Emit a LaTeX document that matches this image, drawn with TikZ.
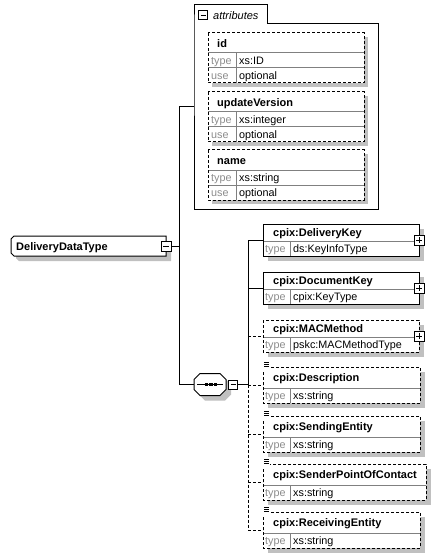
\documentclass[tikz,border=0pt]{standalone}
\usepackage{fontspec}
\setmainfont{Liberation Sans}
\definecolor{shadc}{HTML}{C0C0C0}
\definecolor{divc}{HTML}{808080}
\definecolor{labc}{HTML}{8C8C8C}

% child element box: name, left, top, right, header-bottom, bottom, title, type, border style
\newcommand\childbox[9]{%
  \fill[shadow] ({#2+5},{#3+5}) rectangle ({#4+5},{#6+5});
  \node[boxnode, minimum width={#4-#2}, minimum height={#6-#3}] (#1) at (#2,#3) {};
  \draw[grayline] (#2,#5) -- (#4,#5) ({#2+27},#5) -- ({#2+27},#6);
  \draw[#9] (#1.north west) rectangle (#1.south east);
  \node[hdr] (#1-t) at ({#2+10},{(#3+#5)/2+4}) {#7};
  \node[lbl] (#1-l) at ({#2+2},{(#5+#6)/2+3.8}) {type};
  \node[val] (#1-v) at ({#2+30},{(#5+#6)/2+3.8}) {#8};
}
% attribute box: name, top, title, type, use
\newcommand\attrbox[5]{%
  \fill[shadow] (212,{#2+4}) rectangle (368,{#2+54});
  \node[boxnode, minimum width=156, minimum height=50] (#1) at (208,#2) {};
  \draw[grayline] (208,{#2+20}) -- (364,{#2+20}) (208,{#2+35}) -- (364,{#2+35}) (236,{#2+20}) -- (236,{#2+50});
  \draw[xdash] (#1.north west) rectangle (#1.south east);
  \node[hdr] (#1-t) at (217,{#2+14.5}) {#3};
  \node[lbl] (#1-l1) at (211,{#2+31.5}) {type};
  \node[val] (#1-v1) at (239,{#2+31.5}) {#4};
  \node[lbl] (#1-l2) at (211,{#2+46.5}) {use};
  \node[val] (#1-v2) at (239,{#2+46.5}) {#5};
}
% plus / minus icons: name, x, y, size
\newcommand\plusicon[4]{%
  \node[iconbox, minimum size=#4] (#1) at (#2,#3) {};
  \draw[lw] ({#2-#4/2+2},#3) -- ({#2+#4/2-2},#3) (#2,{#3-#4/2+2}) -- (#2,{#3+#4/2-2});
}
\newcommand\minusicon[4]{%
  \node[iconbox, minimum size=#4] (#1) at (#2,#3) {};
  \draw[lw] ({#2-#4/2+2},#3) -- ({#2+#4/2-2},#3);
}
% simple-content icon at top-left corner: left, top
\newcommand\simpleicon[2]{%
  \fill[white] ({#1-1},{#2-1}) rectangle ({#1+7},{#2+3});
  \draw[line width=0.9pt] ({#1+1},{#2-5}) -- ({#1+6},{#2-5}) ({#1+1},{#2-3}) -- ({#1+6},{#2-3}) ({#1+1},{#2-1}) -- ({#1+6},{#2-1});
}

\begin{document}
\begin{tikzpicture}[x=1pt,y=-1pt,
  lw/.style={line width=1pt},
  xsolid/.style={line width=1pt},
  xdash/.style={line width=1pt, dash pattern=on 3pt off 2pt},
  grayline/.style={line width=1pt, draw=divc},
  shadow/.style={fill=shadc, draw=none},
  hdr/.style={font=\fontsize{11}{13}\selectfont\bfseries, anchor=base west, inner sep=0pt},
  lbl/.style={font=\fontsize{10.8}{12}\selectfont, text=labc, anchor=base west, inner sep=0pt},
  val/.style={font=\fontsize{10.8}{12}\selectfont, anchor=base west, inner sep=0pt},
  boxnode/.style={draw=none, fill=white, anchor=north west, inner sep=0pt, outer sep=0pt},
  iconbox/.style={draw, fill=white, line width=1pt, inner sep=0pt, outer sep=0pt},
  ]
\useasboundingbox (0,0) rectangle (442,556);
\fill[white] (0,0) rectangle (442,556);

% ---------- attributes container ----------
\node[boxnode, fill=none, minimum width=184.5, minimum height=185] (attrs) at (194,24) {};
\node[boxnode, fill=none, minimum width=73, minimum height=19] (attrtab) at (194,5) {};
\draw[lw] (194,24) -- (194,5) -- (267,5) -- (267,24) -- (378.5,24) -- (378.5,209) -- (194,209) -- cycle;
\minusicon{attrminus}{203}{15.5}{9}
\node[val, font=\fontsize{11}{13}\selectfont\itshape] (attrtitle) at (213,19.5) {attributes};

\attrbox{aid}{33}{id}{xs:ID}{optional}
\attrbox{auv}{92}{updateVersion}{xs:integer}{optional}
\attrbox{aname}{150}{name}{xs:string}{optional}

% ---------- DeliveryDataType ----------
\fill[shadow] (19,241) -- (171,241) -- (171,261) -- (19,261) -- (16,258) -- (16,244) -- cycle;
\node[boxnode, fill=none, minimum width=155, minimum height=20] (ddt) at (11,236) {};
\draw[lw, fill=white] (14,236) -- (166,236) -- (166,256) -- (14,256) -- (11,253) -- (11,239) -- cycle;
\node[hdr] (ddtt) at (16,250) {DeliveryDataType};
\minusicon{ddtminus}{166}{246}{10}

% ---------- sequence compositor ----------
\fill[shadow] (205,378.5) -- (225,378.5) -- (231,384.5) -- (231,394.5) -- (225,400.5) -- (205,400.5) -- (199,394.5) -- (199,384.5) -- cycle;
\node[boxnode, fill=none, minimum width=32, minimum height=22] (seq) at (194,373.5) {};
\draw[lw, fill=white] (200,373.5) -- (220,373.5) -- (226,379.5) -- (226,389.5) -- (220,395.5) -- (200,395.5) -- (194,389.5) -- (194,379.5) -- cycle;
\draw[lw] (197,384.5) -- (223,384.5);
\fill (204.5,382.7) rectangle (208,386.3);
\fill (209,382.7) rectangle (212.5,386.3);
\fill (213.5,382.7) rectangle (217,386.3);
\minusicon{seqminus}{233}{384.5}{9}

% ---------- children ----------
\childbox{dk}{263}{224}{419}{241}{256}{cpix:DeliveryKey}{ds:KeyInfoType}{xsolid}
\plusicon{dkplus}{419}{240}{10}
\childbox{dock}{263}{272}{419}{289}{304}{cpix:DocumentKey}{cpix:KeyType}{xsolid}
\plusicon{dockplus}{419}{288}{10}
\childbox{mac}{263}{320}{419}{337}{352}{cpix:MACMethod}{pskc:MACMethodType}{xdash}
\plusicon{macplus}{419}{336}{10}
\childbox{desc}{263}{367}{420}{388}{403}{cpix:Description}{xs:string}{xdash}
\simpleicon{263}{367}
\childbox{se}{263}{416}{420}{437}{452}{cpix:SendingEntity}{xs:string}{xdash}
\simpleicon{263}{416}
\childbox{spoc}{263}{464}{426}{485}{500}{cpix:SenderPointOfContact}{xs:string}{xdash}
\simpleicon{263}{464}
\childbox{re}{263}{512}{420}{533}{548}{cpix:ReceivingEntity}{xs:string}{xdash}
\simpleicon{263}{512}

% ---------- connectors ----------
\coordinate (vtop) at (179.5,107);
\coordinate (vbot) at (179.5,384.5);
\draw[lw] (ddtminus.east) -- (ddtminus.east -| vtop);
\draw[lw] (attrs.west |- vtop) -- (vtop) -- (vbot) -- (seq.west);

\coordinate (btop) at (248,240);
\coordinate (bmid) at (248,384.5);
\coordinate (bbot) at (248,530);
\draw[lw] (seqminus.east) -- (bmid);
\draw[lw] (btop) -- (bmid);
\draw[xdash] (bmid) -- (bbot);
\draw[lw] (dk.west -| btop) -- (dk.west);
\draw[lw] (dock.west -| btop) -- (dock.west);
\draw[xdash] (mac.west -| btop) -- (mac.west);
\draw[xdash] (desc.west -| btop) -- (desc.west);
\draw[xdash] (se.west -| btop) -- (se.west);
\draw[xdash] (spoc.west -| btop) -- (spoc.west);
\draw[xdash] (re.west -| btop) -- (re.west);
\end{tikzpicture}
\end{document}
